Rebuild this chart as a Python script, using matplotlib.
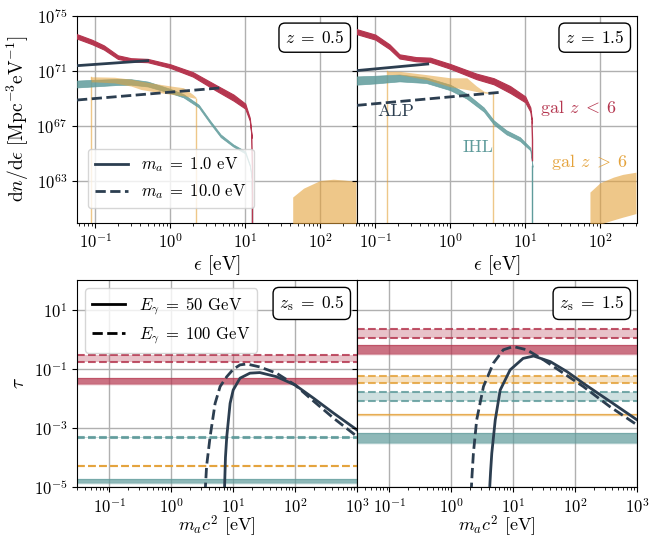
import numpy as np
import matplotlib
matplotlib.use('Agg')
import matplotlib.pyplot as plt
from matplotlib.ticker import NullLocator

plt.rcParams['font.family'] = 'serif'
plt.rcParams['font.serif'] = ['cmr10']
plt.rcParams['mathtext.fontset'] = 'cm'
plt.rcParams['axes.formatter.use_mathtext'] = True
plt.rcParams['axes.unicode_minus'] = False

RED = '#b5364f'
TEAL = '#5f9b9b'
ORANGE = '#e4a23a'
NAVY = '#2c3e50'

# ---- top row: photon spectra, log10(dn/de) ----
# z = 0.5
red_eps_05 = [0.057, 0.09, 0.13, 0.2, 0.3, 0.5, 1.0, 2.0, 4.0, 7.0, 10.0, 11.5, 12.2]
red_hi_05 = [73.66, 73.26, 72.85, 72.13, 71.92, 71.87, 71.48, 70.91, 70.0, 69.28, 68.63, 67.6, 66.25]
red_lo_05 = [73.34, 72.94, 72.55, 71.87, 71.68, 71.63, 71.22, 70.59, 69.6, 68.84, 68.27, 67.4, 66.15]
red_drop_05 = [12.2, 12.5, 12.5]
red_droplog_05 = [66.2, 64.0, 55.0]

teal_eps_05 = [0.057, 0.1, 0.2, 0.3, 0.5, 1.0, 1.5, 2.4, 3.4, 4.7, 6.9, 10.0, 11.6, 12.3]
teal_hi_05 = [70.3, 70.36, 70.42, 70.4, 70.23, 69.7, 69.32, 68.55, 67.4, 66.4, 65.68, 65.18, 64.16, 63.04]
teal_lo_05 = [69.8, 69.88, 69.98, 70.0, 69.87, 69.4, 69.08, 68.35, 67.2, 66.2, 65.52, 65.02, 64.04, 62.96]
teal_drop_05 = [12.3, 12.5, 12.5]
teal_droplog_05 = [63.0, 62.0, 55.0]

orange_eps_05 = [0.088, 0.1, 0.18, 0.3, 0.41, 0.6, 1.03, 1.5, 2.0, 2.2]
orange_hi_05 = [70.57, 70.57, 70.54, 70.4, 70.25, 70.1, 69.9, 69.78, 69.3, 69.1]
orange_lo_05 = [70.2, 70.2, 70.13, 69.9, 69.65, 69.5, 69.3, 69.2, 69.05, 69.0]
orange_cut_05 = [0.088, 2.2]

blob_eps_05 = [43, 60, 100, 150, 200, 300]
blob_hi_05 = [61.86, 62.5, 63.06, 63.15, 63.1, 63.0]
blob_lo_05 = [57.0, 57.5, 58.0, 58.5, 59.0, 59.5]

alp1_eps_05 = [0.057, 0.5]
alp1_log_05 = [71.38, 71.74]
alp10_eps_05 = [0.057, 5.0]
alp10_log_05 = [68.89, 69.78]

# z = 1.5
red_eps_15 = [0.056, 0.1, 0.155, 0.21, 0.35, 0.54, 1.0, 2.24, 3.8, 6.3, 10.0, 11.7, 12.3]
red_hi_15 = [74.03, 73.63, 72.92, 72.2, 72.0, 71.96, 71.5, 70.8, 70.47, 69.9, 69.15, 68.35, 67.4]
red_lo_15 = [73.67, 73.27, 72.58, 71.9, 71.7, 71.64, 71.16, 70.4, 70.03, 69.4, 68.73, 68.05, 67.2]
red_drop_15 = [12.3, 12.5, 12.5]
red_droplog_15 = [67.3, 66.0, 64.5]

teal_eps_15 = [0.056, 0.1, 0.21, 0.48, 1.0, 1.66, 2.8, 3.8, 5.6, 8.5, 11.7, 12.5]
teal_hi_15 = [70.6, 70.65, 70.74, 70.52, 70.0, 69.35, 68.35, 67.42, 66.7, 66.2, 65.44, 64.15]
teal_lo_15 = [70.0, 70.09, 70.24, 70.12, 69.6, 68.99, 68.05, 67.12, 66.4, 65.92, 65.24, 64.05]
teal_drop_15 = [12.5, 12.5]
teal_droplog_15 = [64.1, 55.0]

orange_eps_15 = [0.145, 0.21, 0.48, 1.0, 1.66, 2.24, 2.8, 3.7]
orange_hi_15 = [70.97, 70.97, 70.73, 70.5, 70.5, 69.9, 69.53, 69.4]
orange_lo_15 = [70.73, 70.73, 70.37, 69.85, 69.65, 69.5, 69.4, 69.35]
orange_cut_15 = [0.145, 3.7]

blob_eps_15 = [73, 100, 150, 200, 300]
blob_hi_15 = [62.22, 62.9, 63.3, 63.5, 63.66]
blob_lo_15 = [59.3, 59.9, 60.2, 60.4, 60.66]

alp1_eps_15 = [0.056, 0.5]
alp1_log_15 = [71.02, 71.5]
alp10_eps_15 = [0.056, 4.9]
alp10_log_15 = [68.5, 69.46]

# ---- bottom row: optical depth tau ----
# bands (lo, hi) for E = 50 GeV (solid) and 100 GeV (dashed)
tau_red_50 = {0.5: (0.030, 0.048), 1.5: (0.32, 0.64)}
tau_red_100 = {0.5: (0.174, 0.295), 1.5: (1.12, 2.16)}
tau_orange_50 = {0.5: (2.0e-6, 2.4e-6), 1.5: (2.7e-3, 2.9e-3)}
tau_orange_100 = {0.5: (5.1e-5, 5.3e-5), 1.5: (0.032, 0.058)}
tau_teal_50 = {0.5: (1.41e-5, 1.86e-5), 1.5: (3.0e-4, 6.6e-4)}
tau_teal_100 = {0.5: (4.7e-4, 5.1e-4), 1.5: (8.1e-3, 1.62e-2)}

# ALP tau curves (log10 m_a, log10 tau)
alp50_logm_05 = [0.858, 0.875, 0.896, 0.95, 1.0, 1.11, 1.27, 1.43, 1.7, 2.0, 2.3, 2.62, 3.0]
alp50_logt_05 = [-5.2, -4.0, -3.3, -2.17, -1.72, -1.32, -1.15, -1.13, -1.27, -1.55, -2.0, -2.5, -3.07]
alp100_logm_05 = [0.546, 0.57, 0.627, 0.708, 0.789, 0.896, 1.0, 1.11, 1.22, 1.43, 1.7, 2.0, 2.3, 2.62, 3.0]
alp100_logt_05 = [-5.2, -4.3, -3.3, -2.17, -1.6, -1.27, -1.02, -0.87, -0.84, -0.94, -1.15, -1.55, -2.1, -2.67, -3.29]

alp50_logm_15 = [0.616, 0.634, 0.654, 0.71, 0.79, 0.95, 1.16, 1.33, 1.6, 1.87, 2.13, 2.56, 3.0]
alp50_logt_15 = [-5.2, -4.5, -3.86, -2.73, -1.72, -1.04, -0.65, -0.57, -0.76, -1.1, -1.49, -2.1, -2.73]
alp100_logm_15 = [0.32, 0.335, 0.357, 0.41, 0.52, 0.68, 0.84, 1.0, 1.22, 1.49, 1.81, 2.13, 2.56, 3.0]
alp100_logt_15 = [-5.2, -4.6, -3.86, -2.73, -1.6, -0.81, -0.36, -0.25, -0.36, -0.70, -1.15, -1.6, -2.28, -2.9]

fig, axes = plt.subplots(2, 2, figsize=(6.57, 5.38), dpi=100, sharey='row')
fig.subplots_adjust(left=0.1172, right=0.9696, top=0.9708, bottom=0.0948,
                    wspace=0.0, hspace=0.277)


def p(v):
    return 10.0 ** np.array(v)


def zbox(ax, label):
    ax.text(0.955, 0.935, label, transform=ax.transAxes, ha='right', va='top',
            fontsize=12.5, zorder=10,
            bbox=dict(boxstyle='round,pad=0.35', fc='white', ec='black', lw=1))


def spectrum_panel(ax, red, teal, orange, ocut, blob, alp1, alp10, zlabel):
    r_eps, r_hi, r_lo, r_de, r_dl = red
    ax.fill_between(r_eps, p(r_lo), p(r_hi), color=RED, lw=0.8, ec=RED, zorder=4)
    ax.plot(r_de, p(r_dl), color=RED, lw=1.0, zorder=4)
    t_eps, t_hi, t_lo, t_de, t_dl = teal
    ax.fill_between(t_eps, p(t_lo), p(t_hi), color=TEAL, alpha=0.85, lw=0.5,
                    ec=TEAL, zorder=3)
    ax.plot(t_de, p(t_dl), color=TEAL, lw=1.0, zorder=3)
    o_eps, o_hi, o_lo = orange
    ax.fill_between(o_eps, p(o_lo), p(o_hi), color=ORANGE, alpha=0.55, lw=0, zorder=3.5)
    ax.plot([ocut[0], ocut[0]], [1e55, p(o_hi[0])], color=ORANGE, alpha=0.6, lw=1.0)
    ax.plot([ocut[1], ocut[1]], [1e55, p(o_lo[-1])], color=ORANGE, alpha=0.6, lw=1.0)
    b_eps, b_hi, b_lo = blob
    ax.fill_between(b_eps, p(b_lo), p(b_hi), color=ORANGE, alpha=0.6, lw=0, zorder=3)
    ax.plot(alp1[0], p(alp1[1]), color=NAVY, lw=2.0, zorder=5)
    ax.plot(alp10[0], p(alp10[1]), color=NAVY, lw=2.0, ls='--', zorder=5)
    ax.set_xscale('log')
    ax.set_yscale('log')
    ax.set_xlim(0.057, 310)
    ax.set_ylim(1e60, 1e75)
    ax.set_yticks([1e63, 1e67, 1e71, 1e75])
    ax.yaxis.set_minor_locator(NullLocator())
    ax.grid(True, which='major', color='#b0b0b0', lw=1.0, zorder=1)
    ax.set_xlabel(r'$\epsilon$ [eV]', fontsize=14, labelpad=1)
    zbox(ax, zlabel)


def tau_band(ax, band, color, dashed):
    lo, hi = band
    if dashed:
        ax.axhspan(lo, hi, color=color, alpha=0.3, lw=0, zorder=2)
        ax.axhline(lo, color=color, lw=1.5, ls='--', alpha=0.85, zorder=2)
        ax.axhline(hi, color=color, lw=1.5, ls='--', alpha=0.85, zorder=2)
    else:
        ax.axhspan(lo, hi, color=color, alpha=0.7, lw=0, zorder=2)
        ax.axhline(lo, color=color, lw=1.0, alpha=0.5, zorder=2)
        ax.axhline(hi, color=color, lw=1.0, alpha=0.5, zorder=2)


def tau_panel(ax, z, a50, a100, zlabel):
    for col, b50, b100 in [(RED, tau_red_50, tau_red_100),
                           (ORANGE, tau_orange_50, tau_orange_100),
                           (TEAL, tau_teal_50, tau_teal_100)]:
        tau_band(ax, b100[z], col, True)
        tau_band(ax, b50[z], col, False)
    ax.plot(p(a50[0]), p(a50[1]), color=NAVY, lw=2.0, zorder=5)
    ax.plot(p(a100[0]), p(a100[1]), color=NAVY, lw=2.0, ls='--', zorder=5)
    ax.set_xscale('log')
    ax.set_yscale('log')
    ax.set_xlim(0.03, 1000)
    ax.set_ylim(1e-5, 1e2)
    ax.set_yticks([1e-5, 1e-3, 1e-1, 1e1])
    ax.yaxis.set_minor_locator(NullLocator())
    ax.grid(True, which='major', color='#b0b0b0', lw=1.0, zorder=1)
    ax.set_xlabel(r'$m_a c^2$ [eV]', fontsize=13, labelpad=-1)
    zbox(ax, zlabel)


spectrum_panel(axes[0, 0],
               (red_eps_05, red_hi_05, red_lo_05, red_drop_05, red_droplog_05),
               (teal_eps_05, teal_hi_05, teal_lo_05, teal_drop_05, teal_droplog_05),
               (orange_eps_05, orange_hi_05, orange_lo_05), orange_cut_05,
               (blob_eps_05, blob_hi_05, blob_lo_05),
               (alp1_eps_05, alp1_log_05), (alp10_eps_05, alp10_log_05),
               r'$z\;=\;0.5$')
spectrum_panel(axes[0, 1],
               (red_eps_15, red_hi_15, red_lo_15, red_drop_15, red_droplog_15),
               (teal_eps_15, teal_hi_15, teal_lo_15, teal_drop_15, teal_droplog_15),
               (orange_eps_15, orange_hi_15, orange_lo_15), orange_cut_15,
               (blob_eps_15, blob_hi_15, blob_lo_15),
               (alp1_eps_15, alp1_log_15), (alp10_eps_15, alp10_log_15),
               r'$z\;=\;1.5$')
tau_panel(axes[1, 0], 0.5, (alp50_logm_05, alp50_logt_05),
          (alp100_logm_05, alp100_logt_05), r'$z_\mathrm{s}\;=\;0.5$')
tau_panel(axes[1, 1], 1.5, (alp50_logm_15, alp50_logt_15),
          (alp100_logm_15, alp100_logt_15), r'$z_\mathrm{s}\;=\;1.5$')

for ax in axes.flat:
    ax.tick_params(labelsize=12, direction='out')
    ax.set_axisbelow(True)
for ax in axes[:, 1]:
    ax.tick_params(labelleft=False)

axes[0, 0].set_ylabel(r'$\mathrm{d}n/\mathrm{d}\epsilon\ [\mathrm{Mpc}^{-3}\mathrm{eV}^{-1}]$',
                      fontsize=14)
axes[1, 0].set_ylabel(r'$\tau$', fontsize=14)

# labels in the z = 1.5 spectrum panel
ax = axes[0, 1]
ax.text(0.19, 10 ** 68.1, 'ALP', color=NAVY, fontsize=13, ha='center', va='center', zorder=6)
ax.text(2.35, 10 ** 65.46, 'IHL', color=TEAL, fontsize=13, ha='center', va='center', zorder=6)
ax.text(51, 10 ** 68.34, r'gal $z\;<\;6$', color=RED, fontsize=13, ha='center', va='center', zorder=6)
ax.text(71, 10 ** 64.38, r'gal $z\;>\;6$', color=ORANGE, fontsize=13, ha='center', va='center', zorder=6)

# legends
h1, = axes[0, 0].plot([], [], color=NAVY, lw=2.0)
h2, = axes[0, 0].plot([], [], color=NAVY, lw=2.0, ls='--')
axes[0, 0].legend([h1, h2], [r'$m_a\;=\;1.0$ eV', r'$m_a\;=\;10.0$ eV'],
                  loc='lower left', fontsize=12, framealpha=0.8,
                  bbox_to_anchor=(0.01, 0.03))
h3, = axes[1, 0].plot([], [], color='black', lw=2.0)
h4, = axes[1, 0].plot([], [], color='black', lw=2.0, ls='--')
axes[1, 0].legend([h3, h4], [r'$E_\gamma\;=\;50$ GeV', r'$E_\gamma\;=\;100$ GeV'],
                  loc='upper left', fontsize=12, framealpha=0.8)

fig.savefig('out.png', dpi=100)
